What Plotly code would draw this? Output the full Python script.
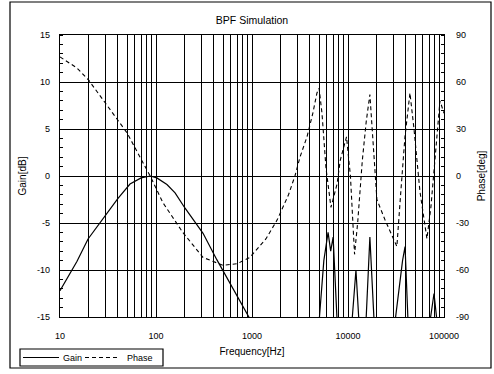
import plotly.graph_objects as go

# ---- data ----
gain_freq = [10, 15, 19.6, 29.4, 40, 53.6, 70, 87, 102, 130, 158, 200, 309, 430, 590, 890, 1000, 1300, 3000,
             5000, 5600, 6200, 6600, 7000, 7500, 9000,
             11000, 12100, 13000, 14200,
             15400, 16900, 18700, 25000,
             30900, 35600, 37000, 39300, 42200, 55000,
             71400, 78700, 84600, 100000]
gain_db = [-12.2, -9.1, -6.7, -4.3, -2.4, -0.85, -0.2, 0, -0.2, -0.9, -1.8, -3.4, -6.1, -8.9, -11.4, -14.6, -15.6, -19, -30,
           -15.5, -9, -6, -8, -6.5, -15.5, -30,
           -15.5, -10, -15.5, -30,
           -15.5, -6.5, -15.5, -30,
           -15.5, -10, -9, -7.5, -15.5, -30,
           -15.5, -12.5, -15.5, -30]

phase_freq = [10, 15, 20, 30, 40, 50, 73, 87, 118, 190, 309, 500, 700, 950, 1400, 1830, 2400, 2800, 3160, 3740,
              4300, 4750, 5000, 5360, 5900, 6650, 7700, 8300, 9650, 10600, 11700, 12600, 14100, 15500, 16900,
              18200, 20000, 24300, 29400, 32300, 35500, 39200, 44200, 48700, 56200, 66400, 73000, 82500, 90800, 100000]
phase_deg = [76, 69, 61, 46, 35, 27.5, 8.6, 0, -17, -36, -52, -57, -56, -52, -40, -28, -12, 0, 12, 25,
             40, 53, 56, 40, 5, -20, -5, 10, 25, 0, -50, -30, 10, 35, 52,
             20, -15, -28, -40, -45, -10, 25, 53, 30, -10, -40, -20, 20, 48, 40]

x_tickvals = [m * 10 ** d for d in range(1, 5) for m in range(1, 10)] + [100000]
x_ticktext = [str(v) if str(v).strip("0") == "1" else "" for v in x_tickvals]

gain_ticks = [15, 10, 5, 0, -5, -10, -15]
phase_ticks = [90, 60, 30, 0, -30, -60, -90]

series_names = ["Gain", "Phase"]

FONT = "Arial, Liberation Sans, sans-serif"

# plot-area geometry (pixels)
L, R, T, B = 60, 50, 35, 57
W, H = 494, 374
PW, PH = W - L - R, H - T - B


def px(xp):
    return (xp - L) / PW


def py(yp):
    return (H - B - yp) / PH


fig = go.Figure()
fig.add_trace(go.Scatter(x=gain_freq, y=gain_db, mode="lines", name=series_names[0],
                         line=dict(color="black", width=1.2)))
fig.add_trace(go.Scatter(x=phase_freq, y=phase_deg, mode="lines", name=series_names[1], yaxis="y2",
                         line=dict(color="black", width=1.1, dash="4px,3px")))

fig.update_layout(
    width=W, height=H,
    margin=dict(l=L, r=R, t=T, b=B, autoexpand=False),
    paper_bgcolor="white", plot_bgcolor="white",
    font=dict(family=FONT, size=9, color="black"),
    title=dict(text="BPF Simulation", x=0.5, xref="paper", y=1 - 20 / H, yanchor="middle",
               font=dict(size=10.5, family=FONT, color="black")),
    xaxis=dict(type="log", range=[1, 5], tickvals=x_tickvals, ticktext=x_ticktext,
               showgrid=True, gridcolor="black", gridwidth=1.2,
               showline=True, linecolor="black", linewidth=1.2, mirror=True,
               ticks="", ticklabelstandoff=10, tickfont=dict(size=9, family=FONT, color="black"),
               title=dict(text="Frequency[Hz]", standoff=8, font=dict(size=10, family=FONT)),
               zeroline=False),
    yaxis=dict(range=[-15, 15], tickvals=gain_ticks, ticktext=[str(t) for t in gain_ticks],
               showgrid=True, gridcolor="black", gridwidth=1.2,
               showline=True, linecolor="black", linewidth=1.2,
               ticks="", ticklabelstandoff=7, tickfont=dict(size=9, family=FONT, color="black"),
               minor=dict(dtick=1, ticks="inside", ticklen=3, tickcolor="black", showgrid=False),
               title=dict(text="Gain[dB]", standoff=8, font=dict(size=10, family=FONT)),
               zeroline=False),
    yaxis2=dict(range=[-90, 90], overlaying="y", side="right",
                tickvals=phase_ticks, ticktext=[str(t) for t in phase_ticks],
                showgrid=False, showline=True, linecolor="black", linewidth=1.2,
                ticks="", ticklabelstandoff=9, tickfont=dict(size=9, family=FONT, color="black"),
                minor=dict(dtick=6, ticks="inside", ticklen=3, tickcolor="black", showgrid=False),
                title=dict(text="Phase[deg]", standoff=10, font=dict(size=10, family=FONT)),
                zeroline=False),
    showlegend=False,
)

# outer frame around the whole chart
fig.add_shape(type="rect", xref="paper", yref="paper",
              x0=px(10), x1=px(491), y0=py(368), y1=py(2),
              line=dict(color="black", width=1.2), fillcolor="rgba(0,0,0,0)", layer="below")

# legend box (drawn by hand to match the compact original)
fig.add_shape(type="rect", xref="paper", yref="paper",
              x0=px(20), x1=px(163), y0=py(366), y1=py(349),
              line=dict(color="black", width=1.2), fillcolor="white")
ly = py(357.5)
fig.add_shape(type="line", xref="paper", yref="paper", x0=px(23), x1=px(59), y0=ly, y1=ly,
              line=dict(color="black", width=1.2))
fig.add_shape(type="line", xref="paper", yref="paper", x0=px(85), x1=px(118), y0=ly, y1=ly,
              line=dict(color="black", width=1.1, dash="4px,3px"))
fig.add_annotation(xref="paper", yref="paper", x=px(61), y=ly, text=series_names[0], showarrow=False,
                   xanchor="left", yanchor="middle", font=dict(size=9, family=FONT, color="black"))
fig.add_annotation(xref="paper", yref="paper", x=px(125), y=ly, text=series_names[1], showarrow=False,
                   xanchor="left", yanchor="middle", font=dict(size=9, family=FONT, color="black"))

fig.write_html("out.html")
